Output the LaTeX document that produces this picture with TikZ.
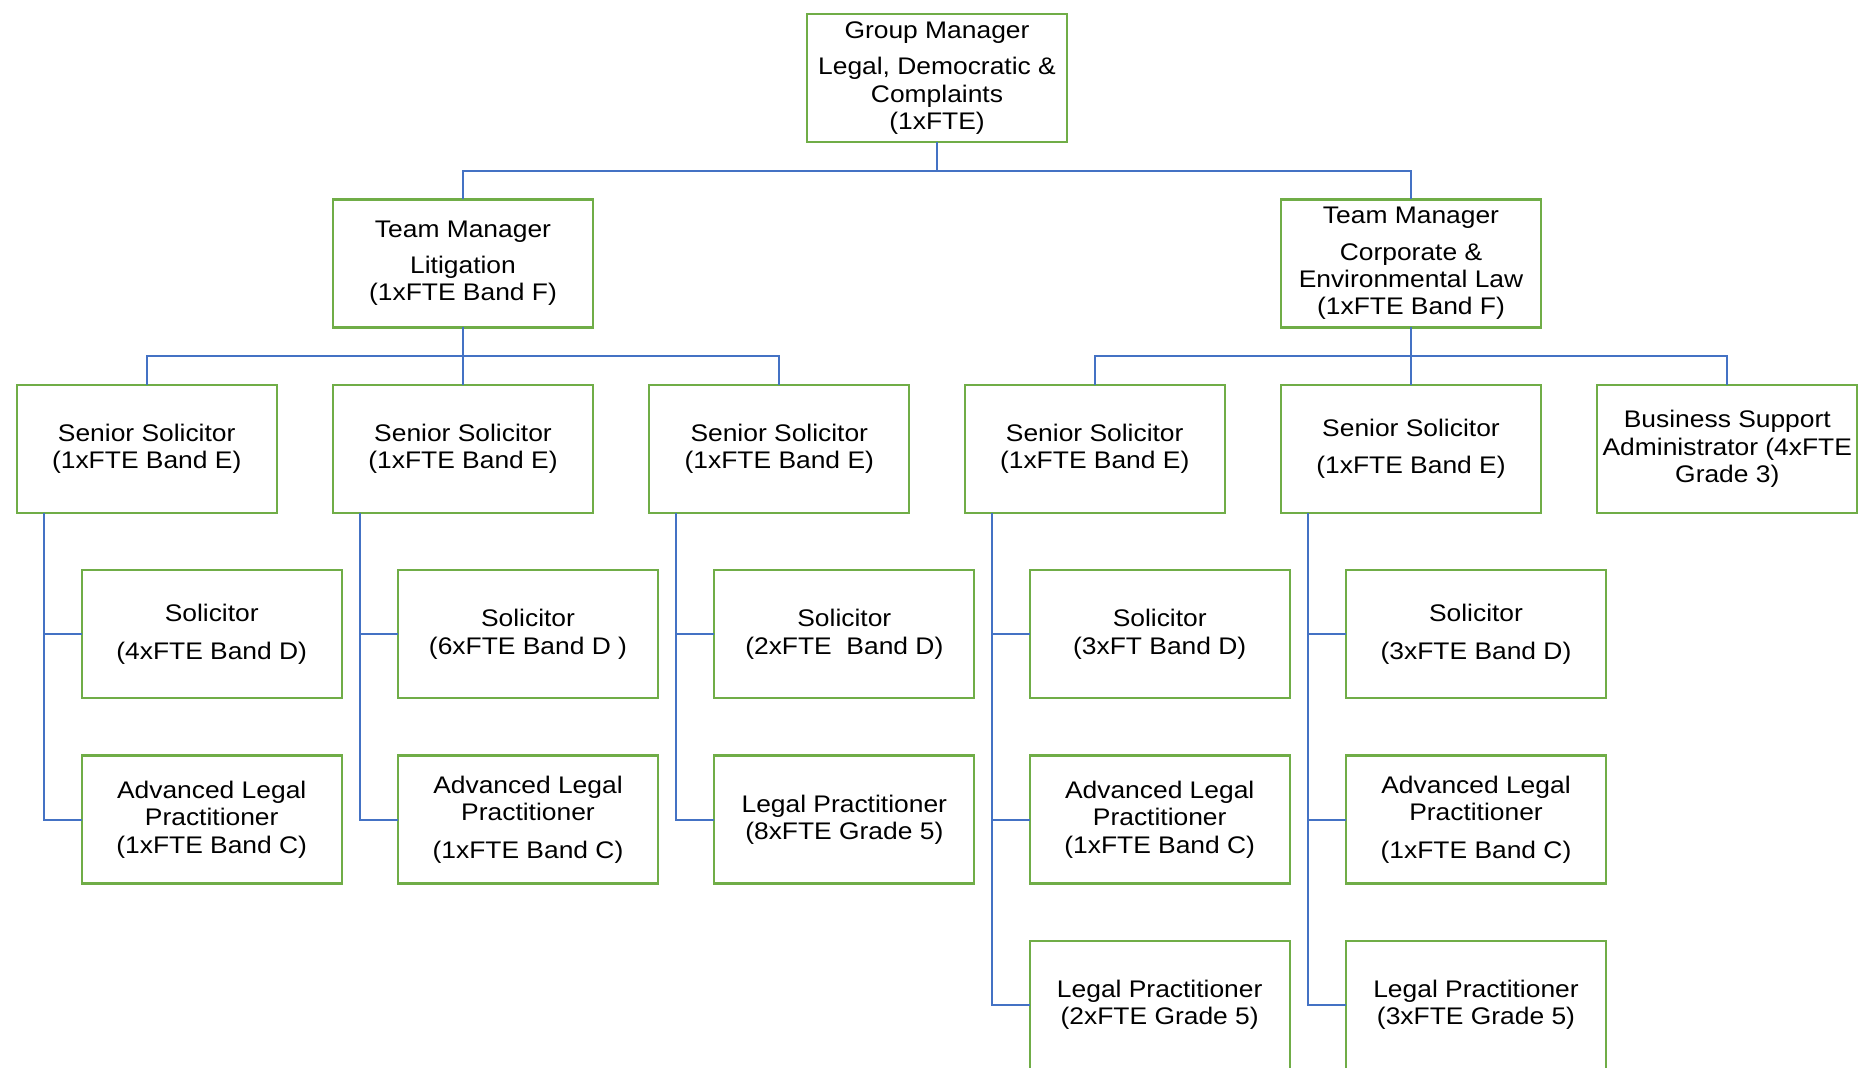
\documentclass[tikz,border=0pt]{standalone}
\usepackage{fontspec}
\setmainfont{Liberation Sans}[FakeStretch=1.1]
\definecolor{boxgreen}{RGB}{112,173,71}
\definecolor{lineblue}{RGB}{68,114,196}
\usetikzlibrary{positioning}

\begin{document}
\begin{tikzpicture}[node distance=28.7pt,
	every node/.style={font=\fontsize{12pt}{13.6pt}\selectfont}]
	\tikzstyle{box}=[draw=boxgreen,line width=1.15pt,minimum width=130pt,minimum height=64pt,inner sep=0pt,outer sep=0pt,align=center]
	\tikzstyle{link}=[draw=lineblue,line width=1pt]

	\path[use as bounding box,clip] (0,0) rectangle (929.5pt,-533.5pt);

	\node[box] (g) at (468.5pt,-39pt) {Group Manager\\[4.5pt] Legal, Democratic \&\\ Complaints\\ (1xFTE)};
	\node[box] (t1) [below=of g,xshift=-237pt] {Team Manager\\[4.5pt] Litigation\\ (1xFTE Band F)};
	\node[box] (t2) [below=of g,xshift=237pt] {Team Manager\\[4.5pt] Corporate \&\\ Environmental Law\\ (1xFTE Band F)};

	\node[box] (s2) [below=of t1] {Senior Solicitor\\ (1xFTE Band E)};
	\node[box] (s1) [left=28.15pt of s2] {Senior Solicitor\\ (1xFTE Band E)};
	\node[box] (s3) [right=28.15pt of s2] {Senior Solicitor\\ (1xFTE Band E)};
	\node[box] (s5) [below=of t2] {Senior Solicitor\\[5pt] (1xFTE Band E)};
	\node[box] (s4) [left=28.15pt of s5] {Senior Solicitor\\ (1xFTE Band E)};
	\node[box] (s6) [right=28.15pt of s5] {Business Support\\ Administrator (4xFTE\\ Grade 3)};

	\node[box] (c1) [below=of s1,xshift=32.5pt] {Solicitor\\[5pt] (4xFTE Band D)};
	\node[box] (c2) [below=of s2,xshift=32.5pt] {Solicitor\\ (6xFTE Band D )};
	\node[box] (c3) [below=of s3,xshift=32.5pt] {Solicitor\\ (2xFTE\ \ Band D)};
	\node[box] (c4) [below=of s4,xshift=32.5pt] {Solicitor\\ (3xFT Band D)};
	\node[box] (c5) [below=of s5,xshift=32.5pt] {Solicitor\\[5pt] (3xFTE Band D)};

	\node[box] (a1) [below=of c1] {Advanced Legal\\ Practitioner\\ (1xFTE Band C)};
	\node[box] (a2) [below=of c2] {Advanced Legal\\ Practitioner\\[5pt] (1xFTE Band C)};
	\node[box] (a3) [below=of c3] {Legal Practitioner\\ (8xFTE Grade 5)};
	\node[box] (a4) [below=of c4] {Advanced Legal\\ Practitioner\\ (1xFTE Band C)};
	\node[box] (a5) [below=of c5] {Advanced Legal\\ Practitioner\\[5pt] (1xFTE Band C)};

	\node[box] (l4) [below=of a4] {Legal Practitioner\\ (2xFTE Grade 5)};
	\node[box] (l5) [below=of a5] {Legal Practitioner\\ (3xFTE Grade 5)};

	% group manager to team managers
	\draw[link] (g.south) -- ++(0,-14.35pt) -| (t1.north);
	\draw[link] (g.south) -- ++(0,-14.35pt) -| (t2.north);

	% team managers to senior staff
	\foreach \m/\s in {t1/s1,t1/s2,t1/s3,t2/s4,t2/s5,t2/s6}
		\draw[link] (\m.south) -- ++(0,-14.35pt) -| (\s.north);

	% senior solicitors to their teams
	\foreach \i in {1,...,5}
	{
		\draw[link] ([xshift=13.5pt]s\i.south west) |- (c\i.west);
		\draw[link] ([xshift=13.5pt]s\i.south west) |- (a\i.west);
	}
	\draw[link] ([xshift=13.5pt]s4.south west) |- (l4.west);
	\draw[link] ([xshift=13.5pt]s5.south west) |- (l5.west);
\end{tikzpicture}
\end{document}
